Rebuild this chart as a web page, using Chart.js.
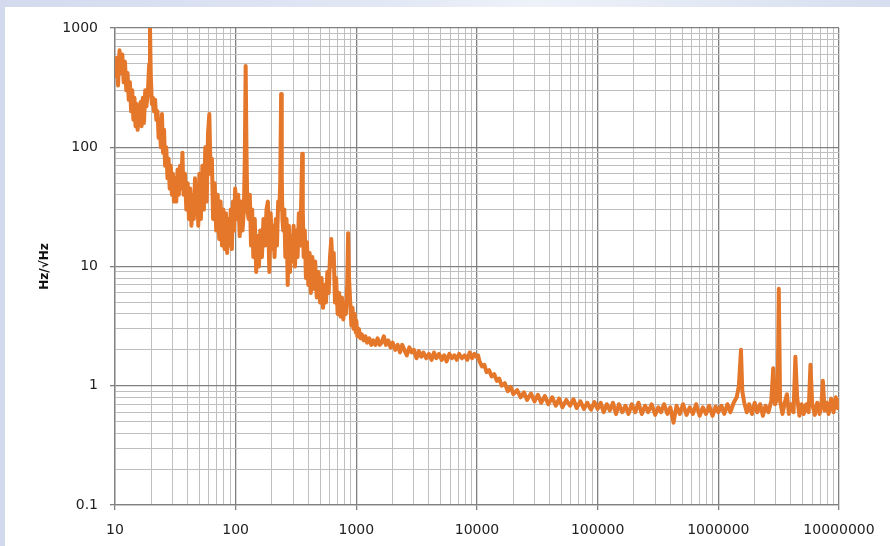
<!DOCTYPE html>
<html>
<head>
<meta charset="utf-8">
<script src="https://cdn.jsdelivr.net/npm/chart.js@4/dist/chart.umd.min.js"></script>
<style>
  html, body { margin: 0; padding: 0; }
  body {
    width: 890px; height: 546px; overflow: hidden;
    background:
      linear-gradient(to right, #d3daee 0px, #e2e8f5 45%, #eef2f9 60%, #d6deef 100%) top left / 890px 7px no-repeat,
      linear-gradient(to right, #d2d9ec 0px, #d2d9ec 5px, #ffffff 5px);
  }
  canvas { display: block; }
</style>
</head>
<body>
<canvas id="c" width="890" height="546"></canvas>
<script>
// ---- Data (frequency in Hz, noise in Hz/√Hz) ----
const freqA = [10,10.3,10.6,10.9,11.2,11.5,11.8,12.1,12.4,12.7,
  13,13.3,13.6,13.9,14.2,14.5,14.8,15.1,15.4,15.7,
  16,16.3,16.6,17,17.4,17.8,18.2,18.7,19.2,19.5,
  19.8,20.2,20.6,21,21.5,22,22.5,23,23.5,24,
  24.5,25,25.5,26,26.6,27.2,27.8,28.4,29,29.6,
  30.2,30.8,31.5,32.2,33,33.8,34.6,35.4,36.2,37,
  38,39,40,41,42,43,44,45,46,47,
  48,49,50,51.5,53,54.5,56,57.5,59,60.5,
  62,63.5,65,67,69,71,73,75,77,79,
  81,83,85,87,89,91,93,95,97,99];
const ampA = [380,560,330,650,420,600,350,520,300,420,
  250,350,200,300,170,260,150,230,140,210,
  180,240,150,260,160,300,220,280,500,1000,
  400,230,260,200,250,170,200,120,150,100,
  190,90,140,70,100,55,80,45,70,40,
  60,35,55,35,65,40,70,45,90,40,
  60,30,50,25,45,22,40,25,55,28,
  45,22,60,25,70,30,100,35,130,190,
  60,80,25,50,20,40,17,35,15,30,
  14,28,13,25,15,30,14,35,20,45];

const freqB = [102,105,108,111,114,117,119,121,123,125,
  128,131,134,137,140,144,148,152,156,160,
  165,170,175,180,185,190,195,200,205,210,
  215,220,225,230,234,238,241,244,248,253,
  258,264,270,276,282,288,295,302,310,318,
  326,334,342,350,356,360,366,374,382,390,
  400,410,420,432,444,456,470,485,500,515,
  530,545,560,575,590,605,620,635,650,665,
  680,700,720,740,760,780,800,820,840,855,
  870,890,910,930,950,970,990,1000];
const ampB = [25,40,18,35,20,30,80,480,90,30,
  25,40,15,30,12,25,9,18,10,20,
  12,25,15,30,35,9,28,14,22,12,
  25,15,35,30,50,280,60,25,20,30,
  12,25,7,22,9,18,11,22,10,20,
  12,28,15,40,88,30,12,20,8,16,
  7,13,6,12,6.5,11,5.5,9,5,8,
  4.5,7,5,9,6,12,17,10,13,5,
  8,4,6,3.8,5.5,3.6,5,4,7,19,
  8,5,3.2,4.5,3,4,2.8,3.5];

const freqC = [1020,1050,1080,1110,1150,1190,1230,1280,1330,1380,
  1440,1500,1560,1620,1690,1760,1840,1920,2000,2100,
  2200,2300,2400,2500,2620,2750,2880,3000,3150,3300,
  3450,3600,3800,4000,4200,4400,4600,4850,5100,5350,
  5600,5900,6200,6500,6800,7100,7500,7900,8300,8700,
  9100,9500,9900,10200];
const ampC = [2.6,3.0,2.5,2.7,2.4,2.6,2.3,2.5,2.2,2.4,
  2.2,2.5,2.2,2.3,2.6,2.2,2.4,2.1,2.3,2.0,
  2.2,1.9,2.2,2.0,1.8,2.1,1.9,2.0,1.7,1.95,
  1.75,1.9,1.7,1.85,1.65,1.9,1.7,1.85,1.65,1.8,
  1.6,1.85,1.7,1.8,1.65,1.85,1.7,1.8,1.65,1.9,
  1.7,1.85,1.75,1.8];

const freqD = [10500,11000,11500,12000,12600,13200,13900,14600,15300,16000,
  17000,18000,19000,20000,21500,23000,24500,26000,28000,30000,
  32000,34000,36500,39000,42000,45000,48000,51000,55000,59000,
  63000,67000,72000,77000,82000,88000,94000,100000];
const ampD = [1.6,1.45,1.5,1.3,1.35,1.2,1.25,1.1,1.15,1.0,
  1.05,0.9,0.98,0.85,0.92,0.8,0.88,0.76,0.86,0.74,
  0.84,0.72,0.82,0.7,0.8,0.68,0.78,0.66,0.76,0.68,
  0.77,0.65,0.74,0.64,0.72,0.63,0.73,0.64];

const freqE = [106000,112000,119000,126000,134000,142000,150000,160000,170000,180000,
  192000,205000,218000,232000,247000,262000,280000,300000,318000,335000,
  355000,378000,400000,425000,450000,480000,510000,545000,580000,615000,
  655000,700000,745000,790000,840000,895000,950000,1000000];
const ampE = [0.72,0.6,0.7,0.62,0.72,0.58,0.7,0.6,0.68,0.58,
  0.7,0.6,0.72,0.58,0.68,0.6,0.7,0.57,0.66,0.6,
  0.7,0.58,0.66,0.49,0.68,0.58,0.7,0.57,0.66,0.58,
  0.7,0.56,0.66,0.58,0.68,0.56,0.67,0.6];

const freqF = [1060000,1120000,1190000,1260000,1340000,1420000,1480000,1540000,1580000,1640000,
  1720000,1800000,1900000,2000000,2100000,2220000,2340000,2460000,2600000,2750000,
  2850000,2950000,3100000,3170000,3250000,3400000,3550000,3700000,3850000,4000000,
  4200000,4350000,4500000,4700000,4900000,5100000,5350000,5600000,5800000,6000000,
  6300000,6600000,6900000,7150000,7350000,7600000,7900000,8200000,8600000,9000000,
  9400000,9700000,10000000];
const ampF = [0.68,0.58,0.7,0.6,0.72,0.8,1.0,2.0,0.9,0.72,
  0.6,0.7,0.58,0.72,0.6,0.7,0.56,0.68,0.6,0.75,
  1.4,0.7,0.8,6.5,0.75,0.58,0.72,0.85,0.58,0.7,
  0.6,1.75,0.8,0.56,0.7,0.58,0.7,0.6,1.5,0.7,
  0.57,0.72,0.58,0.7,1.1,0.62,0.72,0.58,0.78,0.6,
  0.8,0.65,0.78];

// ---- Axis ticks ----
const xMajor = [10,100,1000,10000,100000,1000000,10000000];
const xTickLabels = ['10','100','1000','10000','100000','1000000','10000000'];
const yMajor = [0.1,1,10,100,1000];
const yTickLabels = ['0.1','1','10','100','1000'];
const minorSteps = [1,2,3,4,5,6,7,8,9];
const yTitle = 'Hz/√Hz';

const freq = [].concat(freqA, freqB, freqC, freqD, freqE, freqF);
const amp = [].concat(ampA, ampB, ampC, ampD, ampE, ampF);
const points = freq.map((f, i) => ({ x: f, y: amp[i] }));

function logTicks(majors) {
  const t = [];
  majors.forEach((m, i) => {
    if (i === majors.length - 1) { t.push({ value: m }); return; }
    minorSteps.forEach(k => t.push({ value: m * k }));
  });
  return t;
}
function labelFor(majors, labels, v) {
  const i = majors.indexOf(v);
  return i >= 0 ? labels[i] : '';
}
const isMajor = (majors, c) => c.tick && majors.indexOf(c.tick.value) >= 0;

const tickFont = { family: 'DejaVu Sans', size: 14 };
const majorColor = '#808080';
const minorColor = '#bfbfbf';

new Chart(document.getElementById('c'), {
  type: 'line',
  data: {
    datasets: [{
      data: points,
      borderColor: '#E5772B',
      borderWidth: 4,
      pointRadius: 0,
      tension: 0,
      fill: false,
      borderJoinStyle: 'round'
    }]
  },
  options: {
    responsive: false,
    animation: false,
    devicePixelRatio: 1,
    layout: { padding: { top: 28, right: 51, left: 0, bottom: 0 } },
    plugins: { legend: { display: false }, tooltip: { enabled: false } },
    scales: {
      x: {
        type: 'logarithmic',
        min: 10, max: 10000000,
        afterBuildTicks: s => { s.ticks = logTicks(xMajor); },
        afterFit: s => { s.height = 41; },
        ticks: {
          autoSkip: false, maxRotation: 0, minRotation: 0,
          padding: 12, color: '#222', font: tickFont,
          callback: v => labelFor(xMajor, xTickLabels, v)
        },
        grid: {
          color: c => isMajor(xMajor, c) ? majorColor : minorColor,
          lineWidth: c => isMajor(xMajor, c) ? 1.3 : 1,
          tickColor: c => isMajor(xMajor, c) ? majorColor : 'rgba(0,0,0,0)',
          tickLength: 5
        },
        border: { display: true, color: majorColor, width: 1.3 }
      },
      y: {
        type: 'logarithmic',
        min: 0.1, max: 1000,
        afterBuildTicks: s => { s.ticks = logTicks(yMajor); },
        afterFit: s => { s.width = 115; },
        ticks: {
          autoSkip: false, padding: 12, color: '#222', font: tickFont,
          callback: v => labelFor(yMajor, yTickLabels, v)
        },
        grid: {
          color: c => isMajor(yMajor, c) ? majorColor : minorColor,
          lineWidth: c => isMajor(yMajor, c) ? 1.3 : 1,
          tickColor: c => isMajor(yMajor, c) ? majorColor : 'rgba(0,0,0,0)',
          tickLength: 5
        },
        border: { display: true, color: majorColor, width: 1.3 },
        title: {
          display: true, text: yTitle, color: '#111',
          font: { family: 'DejaVu Sans', weight: 'bold', size: 12 },
          padding: { top: 38, bottom: 0 }
        }
      }
    }
  }
});
</script>
</body>
</html>
